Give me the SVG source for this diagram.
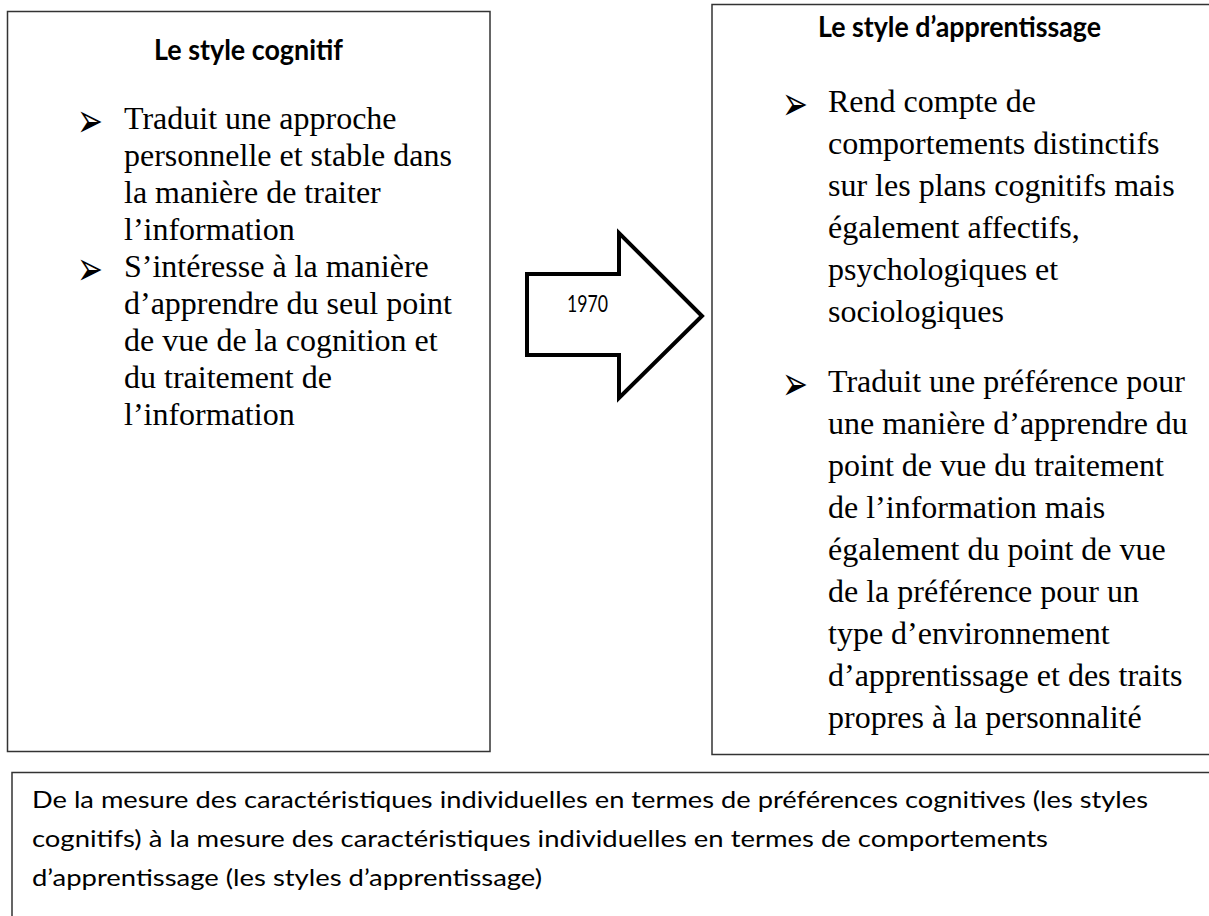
<svg xmlns="http://www.w3.org/2000/svg" width="1209" height="916" viewBox="0 0 1209 916">
<style>
.box{fill:#fff;stroke:#333;stroke-width:1.5}
.title{font-family:Lato,"Liberation Sans",sans-serif;font-weight:bold;font-size:28px;fill:#000}
.body{font-family:"Liberation Serif","Times New Roman",serif;font-size:32px;fill:#000}
.bul{font-family:"DejaVu Sans",sans-serif;font-size:31px;fill:#000}
.cal{font-family:Lato,"Liberation Sans",sans-serif;font-size:24px;fill:#000}
.arrow{fill:#fff;stroke:#000;stroke-width:4;stroke-linejoin:miter}
</style>
<rect width="1209" height="916" fill="#fff"/>
<g id="node-cognitif">
<rect class="box" x="7.5" y="11.5" width="482.5" height="740"/>
<text class="title" x="154" y="60" textLength="189" lengthAdjust="spacingAndGlyphs">Le style cognitif</text>
<text class="bul" transform="translate(77,137) scale(1,1.55)">➢</text>
<text class="bul" transform="translate(77,285) scale(1,1.55)">➢</text>
<text class="body" x="124" y="129">Traduit une approche</text>
<text class="body" x="124" y="166">personnelle et stable dans</text>
<text class="body" x="124" y="203">la manière de traiter</text>
<text class="body" x="124" y="240">l’information</text>
<text class="body" x="124" y="277">S’intéresse à la manière</text>
<text class="body" x="124" y="314">d’apprendre du seul point</text>
<text class="body" x="124" y="351">de vue de la cognition et</text>
<text class="body" x="124" y="388">du traitement de</text>
<text class="body" x="124" y="425">l’information</text>
</g>
<g id="node-apprentissage">
<rect class="box" x="712" y="4.5" width="510" height="750"/>
<text class="title" x="818" y="37" textLength="283" lengthAdjust="spacingAndGlyphs">Le style d’apprentissage</text>
<text class="bul" transform="translate(782,120) scale(1,1.55)">➢</text>
<text class="bul" transform="translate(782,400) scale(1,1.55)">➢</text>
<text class="body" x="828" y="112">Rend compte de</text>
<text class="body" x="828" y="154">comportements distinctifs</text>
<text class="body" x="828" y="196">sur les plans cognitifs mais</text>
<text class="body" x="828" y="238">également affectifs,</text>
<text class="body" x="828" y="280">psychologiques et</text>
<text class="body" x="828" y="322">sociologiques</text>
<text class="body" x="828" y="392">Traduit une préférence pour</text>
<text class="body" x="828" y="434">une manière d’apprendre du</text>
<text class="body" x="828" y="476">point de vue du traitement</text>
<text class="body" x="828" y="518">de l’information mais</text>
<text class="body" x="828" y="560">également du point de vue</text>
<text class="body" x="828" y="602">de la préférence pour un</text>
<text class="body" x="828" y="644">type d’environnement</text>
<text class="body" x="828" y="686">d’apprentissage et des traits</text>
<text class="body" x="828" y="728">propres à la personnalité</text>
</g>
<g id="connectors">
<g id="arrow-1970">
<polygon class="arrow" points="527,274 619,274 619,233 702,316 619,398 619,355 527,355"/>
<text class="cal" x="567" y="312" font-size="19" textLength="41" lengthAdjust="spacingAndGlyphs">1970</text>
</g>
</g>
<g id="node-summary">
<rect class="box" x="12" y="772.5" width="1220" height="170"/>
<text class="cal" x="32" y="808" textLength="1116" lengthAdjust="spacingAndGlyphs">De la mesure des caractéristiques individuelles en termes de préférences cognitives (les styles</text>
<text class="cal" x="32" y="847" textLength="1016" lengthAdjust="spacingAndGlyphs">cognitifs) à la mesure des caractéristiques individuelles en termes de comportements</text>
<text class="cal" x="32" y="886" textLength="510" lengthAdjust="spacingAndGlyphs">d’apprentissage (les styles d’apprentissage)</text>
</g>
</svg>
